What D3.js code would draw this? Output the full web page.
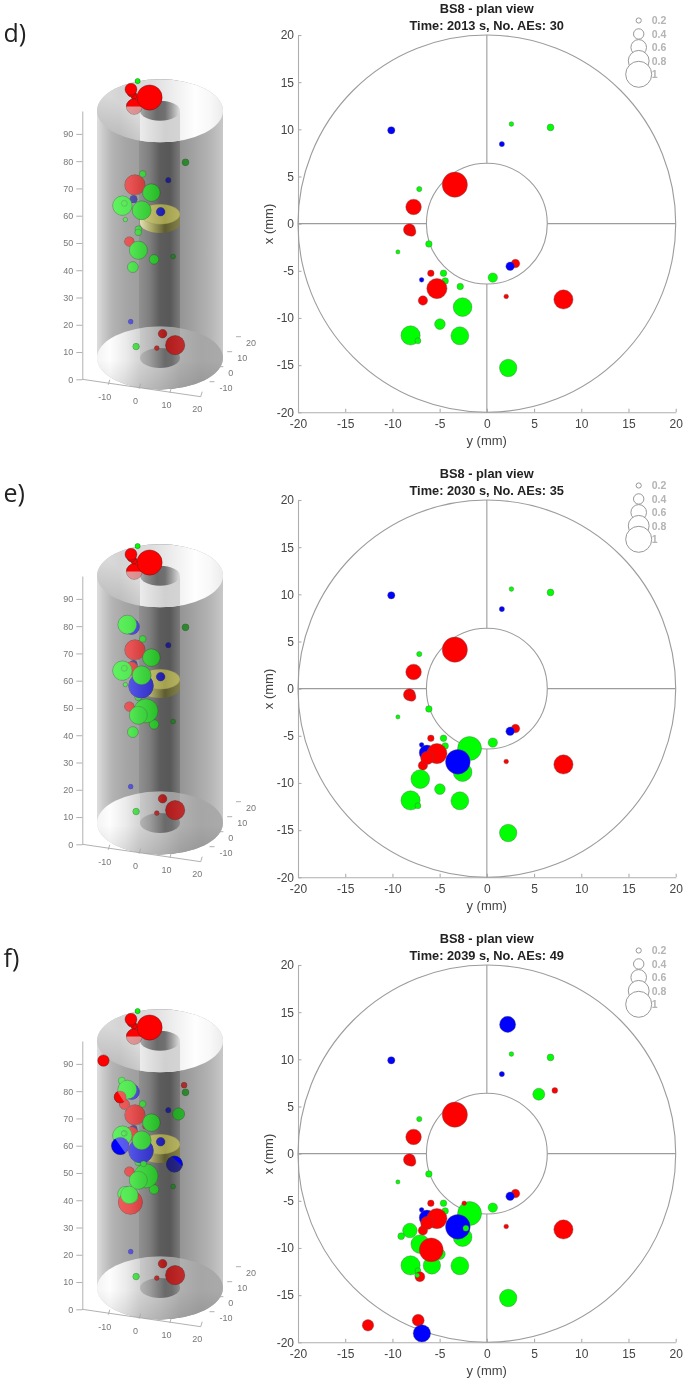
<!DOCTYPE html>
<html><head><meta charset="utf-8">
<script src="https://cdn.jsdelivr.net/npm/d3@7/dist/d3.min.js"></script>
<style>html,body{margin:0;padding:0;background:#fff}svg{display:block;filter:blur(.45px)}text{font-family:"Liberation Sans",Arial,sans-serif}</style>
</head><body><div id="c"></div>
<script>
// ---- data ----
const panelLetters = ["d)","e)","f)"];
const panelTimes   = [2013,2030,2039];
const panelAECount = [30,35,49];
const axisTicks    = [-20,-15,-10,-5,0,5,10,15,20];
const legendSizes  = [0.2,0.4,0.6,0.8,1];
const zTicks3d     = [0,10,20,30,40,50,60,70,80,90];
const planTicks3d  = [-10,0,10,20];
const innerRadius  = 6.4, outerRadius = 20;

const eventY   = [-10.12,2.6,6.74,1.59,-3.39,-7.16,-7.76,-8.2,-7.97,-6.14,-9.42,3.03,2.47,-5.93,-4.59,-6.91,-4.41,0.63,-2.82,-6.35,-5.29,-6.77,2.05,8.11,-2.57,-4.97,-8.08,-7.3,-2.86,2.26,-1.83,-3.07,-6.31,-7.05,-2.22,-2.4,-8.15,-9.07,-5.82,-5.89,-7.09,-7.37,-7.27,-6.88,-12.59,2.2,5.5,7.2];
const eventX   = [9.9,10.56,10.2,8.44,4.13,3.67,1.77,-0.64,-0.88,-2.15,-3,-4.23,-4.52,-5.26,-5.26,-5.96,-6.07,-5.72,-6.67,-6.8,-6.88,-8.15,-7.72,-8.04,-8.85,-10.65,-11.85,-12.42,-11.89,-15.3,-6.35,-7.76,-7.34,-9.59,-7.9,-5.26,-8.15,-8.75,-11.85,-10.2,-13.05,-12.9,-17.67,-19.05,-18.2,13.7,6.3,6.7];
const eventZ   = [51.7,32.3,67.7,61.3,93.2,98.9,90.5,98.1,97,4.9,51.4,12.2,57,98.5,49.9,16,49.2,39.9,71.2,75.2,66.9,46.6,8.7,10.9,59.1,38.9,61.6,62.9,46.1,69.9,44.8,54.6,60.2,77.4,50,62.2,38.2,79.9,40.2,36.6,73.9,63.1,79.1,62,91.9,38.7,61.7,72.3];
const eventMag = [.28,.18,.26,.2,.97,.2,.6,.46,.33,.25,.16,.33,.33,.25,.25,.18,.25,.36,.25,.59,.78,.36,.18,.74,.72,.41,.74,.23,.69,.67,.92,.95,.51,.72,.23,.18,.56,.26,.67,.92,.38,.18,.46,.67,.44,.62,.46,.22];
const eventColor = ["b","g","g","b","r","g","r","r","r","g","g","r","b","r","g","b","g","g","g","b","r","r","r","r","g","g","g","g","g","g","g","b","r","g","g","r","g","g","g","r","r","g","r","b","r","b","g","r"];
// first panel (0=d, 1=e, 2=f) in which each event exists
const eventPanel = [0,0,0,0,0,0,0,0,0,0,0,0,0,0,0,0,0,0,0,1,0,0,0,0,0,0,0,0,0,0,1,1,1,1,2,2,2,2,2,2,2,2,2,2,2,2,2,2];
// share of each marker standing clear of the specimen wall in the 3D view
const eventSolid = [0,0,0,0,1,1,.5,1,1,0,0,0,0,1,0,0,0,0,0,0,0,0,0,0,0,0,0,0,0,0,0,0,0,0,0,0,0,0,0,0,0,0,.55,.5,1,.25,0,0];

const colours = {r:"#ff0000",g:"#00ff00",b:"#0000ff"};
const W=685,H=1381, panelStep=465;
const letterBaseline=[41.7,37.4,37];

const svg = d3.select("#c").append("svg").attr("width",W).attr("height",H).attr("viewBox",[0,0,W,H]);
const defs = svg.append("defs");

// ---- scales ----
const yPlan = d3.scaleLinear().domain([-20,20]).range([298,675.7]);
const xPlan = d3.scaleLinear().domain([-20,20]).range([412.3,35]);
const rMag  = d3.scaleLinear().domain([0,1]).range([0,13]);
const shade = d3.scaleLinear().domain([5,10]).range([1,.62]).clamp(true);

// oblique projection of the 3D view
const sxFromY = d3.scaleLinear().domain([0,1]).range([156.67,159.74]);
const sxFromX = d3.scaleLinear().domain([0,1]).range([0,0.8]);
const syFromY = d3.scaleLinear().domain([0,1]).range([359.33,359.76]);
const syFromX = d3.scaleLinear().domain([0,1]).range([0,-1.5]);
const syFromZ = d3.scaleLinear().domain([0,1]).range([0,-2.727]);
const proj = (y,x,z)=>[sxFromY(y)+sxFromX(x), syFromY(y)+syFromX(x)+syFromZ(z)];

// geometry of the specimen on screen
const cyl = {cx:160, rx:63, ry:31.5, yTop:110.8, yBot:358, hrx:20, hry:10};

// ---- gradients ----
function grad(id,stops){
  const g=defs.append("linearGradient").attr("id",id).attr("gradientUnits","userSpaceOnUse")
    .attr("x1",cyl.cx-cyl.rx).attr("x2",cyl.cx+cyl.rx).attr("y1",0).attr("y2",0);
  stops.forEach(s=>g.append("stop").attr("offset",(s[0]-(cyl.cx-cyl.rx))/(2*cyl.rx)).attr("stop-color",s[1]));
}
function shadeGrad(id,x1,y1,x2,y2,a){
  const g=defs.append("linearGradient").attr("id",id).attr("gradientUnits","userSpaceOnUse").attr("x1",x1).attr("y1",y1).attr("x2",x2).attr("y2",y2);
  g.append("stop").attr("offset",0).attr("stop-color","#000").attr("stop-opacity",a);
  g.append("stop").attr("offset",1).attr("stop-color","#000").attr("stop-opacity",0);
}
grad("wall",[[97,"#dddddd"],[103,"#cbcbcb"],[112,"#b4b4b4"],[125,"#a6a6a6"],[139,"#9e9e9e"],[139.5,"#909090"],[150,"#7d7d7d"],[160,"#5c5c5c"],[170,"#585858"],[180,"#7a7a7a"],[180.5,"#959595"],[195,"#a4a4a4"],[210,"#b4b4b4"],[223,"#c8c8c8"]]);
grad("overlay",[[97,"#ffffff"],[120,"#d8d8d8"],[130,"#c8c8c8"],[140,"#a0a0a0"],[150,"#808080"],[165,"#404040"],[180,"#606060"],[195,"#808080"],[223,"#a0a0a0"]]);
grad("cap",[[97,"#dedede"],[120,"#d4d4d4"],[150,"#dcdcdc"],[175,"#efefef"],[195,"#fefefe"],[210,"#f8f8f8"],[223,"#ececec"]]);
grad("capBand",[[139,"#ededed"],[150,"#e0e0e0"],[165,"#d0d0d0"],[180,"#d4d4d4"]]);
grad("hole",[[139,"#b0b0b0"],[146,"#8c8c8c"],[157,"#6a6a6a"],[165,"#707070"],[172,"#a0a0a0"],[180,"#e0e0e0"]]);
grad("floor",[[97,"#f4f4f4"],[110,"#fdfdfd"],[125,"#ececec"],[140,"#d4d4d4"],[160,"#c4c4c4"],[180,"#b0b0b0"],[200,"#a6a6a6"],[223,"#aaaaaa"]]);
grad("holeBot",[[139,"#b6b6b6"],[150,"#9c9c9c"],[165,"#6a6a6a"],[172,"#6e6e6e"],[181,"#909090"]]);
grad("discTop",[[140,"#d6d49c"],[150,"#bdbb6c"],[165,"#a3a04e"],[180,"#b6b364"]]);
grad("discSide",[[140,"#e2e0b4"],[152,"#a8a764"],[165,"#5e5c30"],[180,"#85834a"]]);
shadeGrad("floorShade",115,390,115,360,.1);
shadeGrad("capShade",112,140,132,112,.14);

const wallPath = `M${cyl.cx-cyl.rx},${cyl.yTop}V${cyl.yBot}A${cyl.rx},${cyl.ry} 0 0 0 ${cyl.cx+cyl.rx},${cyl.yBot}V${cyl.yTop}A${cyl.rx},${cyl.ry} 0 0 0 ${cyl.cx-cyl.rx},${cyl.yTop}Z`;

function ell(g,cy,rx,ry,fill){return g.append("ellipse").attr("cx",cyl.cx).attr("cy",cy).attr("rx",rx).attr("ry",ry).attr("fill",fill);}

function drawPanel(p){
  const root = svg.append("g").attr("transform",`translate(0,${p*panelStep})`);
  const present = d3.range(eventY.length).filter(i=>eventPanel[i]<=p);

  // panel letter
  root.append("text").attr("x",3.5).attr("y",letterBaseline[p]).attr("font-size",25)
    .style("font-family","'Open Sans'").attr("fill","#222").text(panelLetters[p]);

  // ---------- plan view ----------
  const plan = root.append("g");
  plan.append("text").attr("x",486.7).attr("y",13.3).attr("text-anchor","middle").attr("font-size",12.8).attr("font-weight","bold").attr("fill","#222").text("BS8 - plan view");
  plan.append("text").attr("x",486.7).attr("y",30).attr("text-anchor","middle").attr("font-size",12.8).attr("font-weight","bold").attr("fill","#222").text(`Time: ${panelTimes[p]} s, No. AEs: ${panelAECount[p]}`);

  const plain = d=>String(d);
  const axB = d3.axisBottom(yPlan).tickValues(axisTicks).tickFormat(plain).tickSize(-3.5).tickSizeOuter(0).tickPadding(7);
  const axL = d3.axisLeft(xPlan).tickValues(axisTicks).tickFormat(plain).tickSize(-3.5).tickSizeOuter(0).tickPadding(4);
  [[axB,`translate(0,${xPlan(-20)})`],[axL,`translate(${yPlan(-20)},0)`]].forEach(([a,t])=>{
    const g=plan.append("g").attr("transform",t).call(a);
    g.selectAll("path,line").attr("stroke","#aeaeae").attr("stroke-width",1.1);
    g.selectAll("text").attr("font-size",12).attr("fill","#444");
  });
  plan.append("text").attr("x",486.7).attr("y",445).attr("text-anchor","middle").attr("font-size",13).attr("fill","#444").text("y (mm)");
  plan.append("text").attr("transform",`translate(272.5,224) rotate(-90)`).attr("text-anchor","middle").attr("font-size",13).attr("fill","#444").text("x (mm)");

  const structure = plan.append("g").attr("fill","none").attr("stroke","#9c9c9c").attr("stroke-width",1.1);
  [outerRadius,innerRadius].forEach(r=>structure.append("ellipse")
    .attr("cx",yPlan(0)).attr("cy",xPlan(0))
    .attr("rx",yPlan(r)-yPlan(0)).attr("ry",xPlan(0)-xPlan(r)));
  [[[-20,0],[-innerRadius,0]],[[innerRadius,0],[20,0]],[[0,-20],[0,-innerRadius]],[[0,innerRadius],[0,20]]].forEach(s=>
    structure.append("line").attr("x1",yPlan(s[0][0])).attr("y1",xPlan(s[0][1])).attr("x2",yPlan(s[1][0])).attr("y2",xPlan(s[1][1])));

  plan.append("g").selectAll("circle").data(present).join("circle")
    .attr("cx",i=>yPlan(eventY[i])).attr("cy",i=>xPlan(eventX[i])).attr("r",i=>rMag(eventMag[i]))
    .attr("fill",i=>colours[eventColor[i]]).attr("stroke","#555").attr("stroke-opacity",.6).attr("stroke-width",.6);

  // legend
  const legendY = d3.scaleLinear().domain([0.2,1]).range([20.5,74.3]);
  const lg = plan.append("g");
  legendSizes.forEach(m=>{
    lg.append("circle").attr("cx",638.7).attr("cy",legendY(m)).attr("r",rMag(m)).attr("fill","#fff").attr("stroke","#8c8c8c").attr("stroke-width",.9);
    lg.append("text").attr("x",651.7).attr("y",legendY(m)+3.8).attr("font-size",10.5).attr("font-weight","bold").attr("fill","#b4b4b4").text(m);
  });

  // ---------- 3D view ----------
  const v = root.append("g");
  v.append("path").attr("d",wallPath).attr("fill","url(#wall)");
  // floor seen through the wall
  ell(v,cyl.yBot,cyl.rx,cyl.ry,"url(#floor)");
  const fid=`floorClip${p}`;
  defs.append("clipPath").attr("id",fid).append("ellipse").attr("cx",cyl.cx).attr("cy",cyl.yBot).attr("rx",cyl.rx).attr("ry",cyl.ry);
  v.append("rect").attr("x",cyl.cx-cyl.hrx).attr("width",2*cyl.hrx).attr("y",cyl.yBot-cyl.ry).attr("height",cyl.ry).attr("fill","url(#holeBot)").attr("opacity",.35).attr("clip-path",`url(#${fid})`);
  ell(v,cyl.yBot,cyl.rx,cyl.ry,"url(#floorShade)");
  // tube foot
  ell(v,cyl.yBot,cyl.hrx,cyl.hry,"url(#holeBot)");
  // top annulus
  ell(v,cyl.yTop,cyl.rx,cyl.ry,"url(#cap)");
  ell(v,cyl.yTop,cyl.rx,cyl.ry,"url(#capShade)");
  const bid=`bandClip${p}`;
  defs.append("clipPath").attr("id",bid).append("ellipse").attr("cx",cyl.cx).attr("cy",cyl.yTop).attr("rx",cyl.rx).attr("ry",cyl.ry);
  v.append("rect").attr("x",cyl.cx-cyl.hrx).attr("width",2*cyl.hrx).attr("y",cyl.yTop).attr("height",cyl.ry+2).attr("fill","url(#capBand)").attr("clip-path",`url(#${bid})`);
  ell(v,cyl.yTop,cyl.hrx,cyl.hry,"url(#hole)");

  // yellow disc
  const discBot=syFromY(0)+syFromZ(50), discTop=syFromY(0)+syFromZ(53.2);
  v.append("path").attr("d",`M${cyl.cx-cyl.hrx},${discTop}V${discBot}A${cyl.hrx},${cyl.hry} 0 0 0 ${cyl.cx+cyl.hrx},${discBot}V${discTop}Z`).attr("fill","url(#discSide)");
  ell(v,discTop,cyl.hrx,cyl.hry,"url(#discTop)").attr("stroke","#8f8d4a").attr("stroke-width",.3);

  // markers (back to front), then the translucent wall laid over them only
  const inside = present.filter(i=>eventSolid[i]<1).sort((a,b)=>eventX[b]-eventX[a]);
  const fillOf = i=>{const c=d3.color(colours[eventColor[i]]);const k=shade(eventX[i]);return d3.rgb(c.r*k,c.g*k,c.b*k).toString();};
  v.append("g").selectAll("circle").data(inside).join("circle")
    .attr("cx",i=>proj(eventY[i],eventX[i],eventZ[i])[0]).attr("cy",i=>proj(eventY[i],eventX[i],eventZ[i])[1])
    .attr("r",i=>rMag(eventMag[i])).attr("fill",fillOf).attr("stroke","#222").attr("stroke-opacity",.55).attr("stroke-width",.6);
  const cid=`mk${p}`;
  defs.append("clipPath").attr("id",cid).selectAll("circle").data(inside).join("circle")
    .attr("cx",i=>proj(eventY[i],eventX[i],eventZ[i])[0]).attr("cy",i=>proj(eventY[i],eventX[i],eventZ[i])[1]).attr("r",i=>rMag(eventMag[i]));
  const over=v.append("g").attr("clip-path",`url(#${cid})`);
  over.append("path").attr("d",wallPath).attr("fill","url(#overlay)").attr("opacity",.42);
  ell(over,cyl.yTop,cyl.rx,cyl.ry,"url(#cap)").attr("opacity",.5);

  // parts that stand clear of the specimen
  const clear = present.filter(i=>eventSolid[i]>0).sort((a,b)=>eventMag[a]-eventMag[b]);
  clear.forEach(i=>{
    const [cx,cy]=proj(eventY[i],eventX[i],eventZ[i]), r=rMag(eventMag[i]);
    const c=v.append("circle").attr("cx",cx).attr("cy",cy).attr("r",r).attr("fill",colours[eventColor[i]]).attr("stroke","#222").attr("stroke-opacity",.6).attr("stroke-width",.6);
    if(eventSolid[i]<1){
      // direction the marker leaves the solid: upward through the top face, otherwise radially
      let dx,dy;
      if(eventZ[i]>85){dx=0;dy=-1;}
      else{dx=eventY[i]*3.07+eventX[i]*.8;dy=eventY[i]*.43-eventX[i]*1.5;const n=Math.hypot(dx,dy);dx/=n;dy/=n;}
      const off=(1-2*eventSolid[i])*r, px=-dy, py=dx, s=2*r;
      const ax=cx+dx*off, ay=cy+dy*off;
      const poly=[[ax+px*s,ay+py*s],[ax-px*s,ay-py*s],[ax-px*s+dx*s,ay-py*s+dy*s],[ax+px*s+dx*s,ay+py*s+dy*s]];
      const id=`cut${p}_${i}`;
      defs.append("clipPath").attr("id",id).append("polygon").attr("points",poly.map(q=>q.join(",")).join(" "));
      c.attr("clip-path",`url(#${id})`);
    }
  });

  // 3D axes
  const ax3 = v.append("g");
  const zAxisScale = d3.scaleLinear().domain([0,98.4]).range([379.3,111]);
  const zA = ax3.append("g").attr("transform","translate(82.3,0)").call(d3.axisLeft(zAxisScale).tickValues(zTicks3d).tickFormat(plain).tickSize(6).tickSizeOuter(0).tickPadding(3));
  zA.selectAll("path,line").attr("stroke","#a8a8a8").attr("stroke-width",.9);
  zA.selectAll("text").attr("font-size",9).attr("fill","#777");

  const frontAxis = d3.scaleLinear().domain([-10,20]).range([[108.3,384.7],[200.7,396.7]]);
  const sideAxis  = d3.scaleLinear().domain([-20,20]).range([[200.7,396.7],[236,336.7]]);
  const seg=(a,b,sw)=>ax3.append("line").attr("x1",a[0]).attr("y1",a[1]).attr("x2",b[0]).attr("y2",b[1]).attr("stroke","#a8a8a8").attr("stroke-width",sw||.9);
  seg([82.3,379.3],frontAxis(20)); seg(sideAxis(-20),sideAxis(20));
  planTicks3d.forEach(t=>{
    const f=frontAxis(t); seg(f,[f[0]+1.5,f[1]-5]);
    ax3.append("text").attr("x",f[0]-3.5).attr("y",f[1]+15.5).attr("text-anchor","middle").attr("font-size",9).attr("fill","#777").text(t);
    const s=sideAxis(t); seg(s,[s[0]+5,s[1]]);
    ax3.append("text").attr("x",s[0]+10).attr("y",s[1]+9).attr("font-size",9).attr("fill","#777").text(t);
  });
}
[0,1,2].forEach(drawPanel);
</script></body></html>
